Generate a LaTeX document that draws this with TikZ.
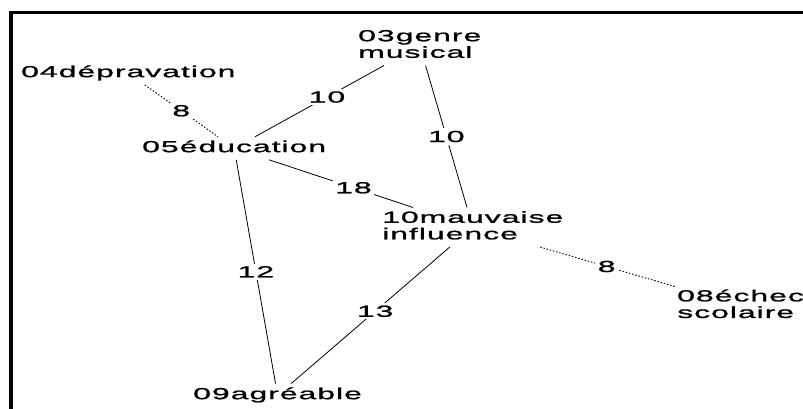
\documentclass[tikz,border=0pt]{standalone}
\usepackage{fontspec}
\setmainfont{Liberation Sans}[FakeStretch=2.0, LetterSpace=6, FakeBold=1.2]
\usetikzlibrary{calc}
% fixed line box so every text line has the same height and depth
\newcommand\lnbox{\rule[-4pt]{0pt}{15.5pt}}
\begin{document}
\begin{tikzpicture}[x=1pt, y=-1pt,
  every node/.style={font=\fontsize{16}{15.5}\selectfont},
  term/.style={anchor=west, align=left, inner xsep=2pt, inner ysep=3.5pt},
  weight/.style={fill=white, inner sep=2.5pt},
  link/.style={line width=0.8pt},
  weak/.style={line width=0.9pt, dash pattern=on 1.5pt off 1.8pt}]
  \clip (0,0) rectangle (803,409);
  \fill[white] (0,0) rectangle (803,409);
  % frame
  \draw[line width=3.5pt] (11,12.5) rectangle (840,450);

  % terms
  \node[term] (dep) at (19,73.25)  {\lnbox 04dépravation};
  \node[term] (gen) at (356,45.75) {\lnbox 03genre\\\lnbox musical};
  \node[term] (edu) at (140,148.25) {\lnbox 05éducation};
  \node[term] (mau) at (380,227.25) {\lnbox 10mauvaise\\\lnbox influence};
  \node[term] (ech) at (675,305.75) {\lnbox 08échec\\\lnbox scolaire};
  \node[term] (agr) at (191,395.25) {\lnbox 09agréable};

  % links
  \draw[weak] (dep) -- (edu);
  \draw[link] (edu) -- (gen);
  \draw[link] (gen) -- (mau);
  \draw[link] (edu) -- (mau);
  \draw[link] (edu) -- (agr);
  \draw[link] (mau) -- (agr);
  \draw[weak] (mau) -- (ech);

  % weights
  \node[weight] (w1) at ($(dep.center)!.5!(edu.center)$) {8};
  \node[weight] (w2) at ($(edu.center)!.5!(gen.center)$) {10};
  \node[weight] (w3) at ($(gen.center)!.5!(mau.center)$) {10};
  \node[weight] (w4) at ($(edu.center)!.5!(mau.center)$) {18};
  \node[weight] (w5) at ($(edu.center)!.5!(agr.center)$) {12};
  \node[weight] (w6) at ($(mau.center)!.5!(agr.center)$) {13};
  \node[weight] (w7) at ($(mau.center)!.5!(ech.center)$) {8};
\end{tikzpicture}
\end{document}
